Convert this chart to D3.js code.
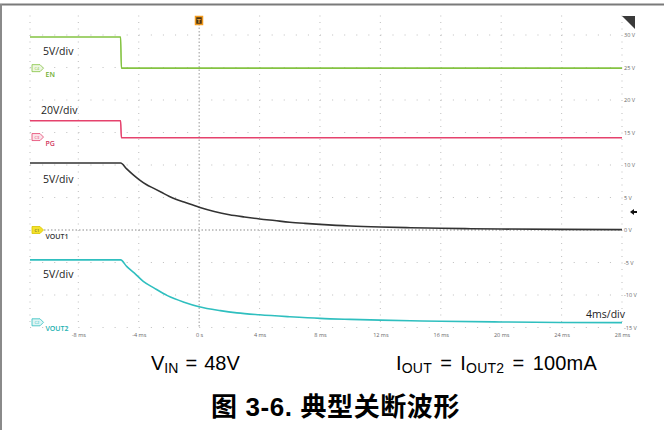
<!DOCTYPE html>
<html><head><meta charset="utf-8">
<script src="https://cdn.jsdelivr.net/npm/d3@7"></script>
<style>body{margin:0;background:#fff}svg{display:block}</style>
</head><body><svg id="c" width="664" height="430"></svg>
<script>
// ---------- data ----------
const timeTicks = [-8, -4, 0, 4, 8, 12, 16, 20, 24, 28];
const timeTickLabels = ["-8 ms", "-4 ms", "0 s", "4 ms", "8 ms", "12 ms", "16 ms", "20 ms", "24 ms", "28 ms"];
const voltTicks = [30, 25, 20, 15, 10, 5, 0, -5, -10, -15];
const voltTickLabels = ["30 V", "25 V", "20 V", "15 V", "10 V", "5 V", "0 V", "-5 V", "-10 V", "-15 V"];
const channelNames = ["EN", "PG", "VOUT1", "VOUT2"];
const channelIds = ["C4", "C3", "C1", "C2"];
const channelScales = ["5V/div", "20V/div", "5V/div", "5V/div"];
const timeDivLabel = "4ms/div";
// traces: [time (ms), level on the displayed volt scale]
const enTrace = [[-11.2, 29.7], [-5.2, 29.7], [-5.15, 24.9], [28, 24.9]];
const pgTrace = [[-11.2, 16.8], [-5.2, 16.8], [-5.15, 14.2], [28, 14.2]];
const vout1Trace = [[-11.2, 10.3], [-5.2, 10.3], [-4.8, 9.4], [-4.4, 8.55], [-4, 7.8], [-3.5, 7.0], [-3, 6.4],
  [-2.5, 5.8], [-2, 5.2], [-1.5, 4.7], [-1, 4.3], [0, 3.5], [1, 2.85], [2, 2.35], [3, 2.0], [4, 1.7],
  [5, 1.45], [6, 1.2], [7, 1.02], [8, 0.87], [10, 0.62], [12, 0.46], [14, 0.35], [16, 0.26], [18, 0.2],
  [20, 0.15], [24, 0.09], [28, 0.06]];
const vout2Trace = [[-11.2, -4.6], [-5.2, -4.6], [-4.8, -5.6], [-4.3, -6.6], [-3.7, -7.9], [-3, -8.9],
  [-2.1, -10.1], [-1, -11.1], [0, -11.8], [1.4, -12.4], [2.5, -12.75], [4, -13.05], [6, -13.35],
  [8, -13.6], [10, -13.75], [12, -13.87], [14, -13.97], [16, -14.05], [20, -14.15], [24, -14.22], [28, -14.25]];
const captionLeft = ["V", "IN", " = 48V"];
const captionRight = ["I", "OUT", " = ", "I", "OUT2", " = 100mA"];
const figureTitle = "图 3-6. 典型关断波形";

// ---------- layout / style ----------
const traces = [enTrace, pgTrace, vout1Trace, vout2Trace];
const colors = ["#84c341", "#e5426d", "#333333", "#2fbfbf"];
const markerFills = ["#eef7e2", "#fbe3ea", "#f4e22b", "#dff5f5"];
const labelColors = ["#6fae2e", "#d23a60", "#333333", "#22b2b2"];
const groundLevels = [24.9, 14.3, 0, -14.2];
const scaleLabelY = [55, 114, 183, 278];

const svg = d3.select("#c");
svg.append("rect").attr("width", 664).attr("height", 430).attr("fill", "#fff");

const x = d3.scaleLinear().domain([-11.2, 28]).range([30, 622]);
const y = d3.scaleLinear().domain([-15, 30]).range([327.5, 35]);
const plotTop = 15.5, plotBottom = 327.5;

// frame
svg.append("line").attr("x1", 0).attr("x2", 664).attr("y1", 4.5).attr("y2", 4.5)
  .attr("stroke", "#7a7a7a").attr("stroke-width", 2);
svg.append("line").attr("x1", 1).attr("x2", 1).attr("y1", 4).attr("y2", 430)
  .attr("stroke", "#8a8a8a").attr("stroke-width", 2);

// grid
const g = svg.append("g");
const minorX = x(0.8) - x(0);
const minorY = y(0) - y(1);
const vx = [x.domain()[0]].concat(timeTicks.filter(d => d !== 0));
g.selectAll("line.vg").data(vx).join("line")
  .attr("x1", d => x(d)).attr("x2", d => x(d)).attr("y1", plotTop).attr("y2", plotBottom)
  .attr("stroke", "#c4c4c4").attr("stroke-width", 1.1).attr("stroke-dasharray", `1.1,${minorY - 1.1}`);
g.selectAll("line.hg").data(voltTicks.filter(d => d !== 0)).join("line")
  .attr("x1", x.range()[0]).attr("x2", x.range()[1]).attr("y1", d => y(d)).attr("y2", d => y(d))
  .attr("stroke", "#c4c4c4").attr("stroke-width", 1.1).attr("stroke-dasharray", `1.1,${minorX - 1.1}`);
g.append("line").attr("x1", x(0)).attr("x2", x(0)).attr("y1", 24).attr("y2", plotBottom)
  .attr("stroke", "#9a9a9a").attr("stroke-width", 1).attr("stroke-dasharray", "1.5,2");
g.append("line").attr("x1", 44).attr("x2", x.range()[1]).attr("y1", y(0)).attr("y2", y(0))
  .attr("stroke", "#8a8a8a").attr("stroke-width", 1).attr("stroke-dasharray", "1.5,2");

// axis tick labels
const xAxis = d3.axisBottom(x).tickValues(timeTicks).tickSize(0).tickPadding(0)
  .tickFormat((d, i) => timeTickLabels[i]);
const xa = svg.append("g").attr("transform", `translate(0,${plotBottom + 6})`).call(xAxis);
xa.select(".domain").remove();
xa.selectAll("text").attr("font-family", "Open Sans, sans-serif").attr("font-size", 5.5).attr("fill", "#666");

const yAxis = d3.axisRight(y).tickValues(voltTicks).tickSize(0).tickPadding(0)
  .tickFormat((d, i) => voltTickLabels[i]);
const ya = svg.append("g").attr("transform", `translate(624,0)`).call(yAxis);
ya.select(".domain").remove();
ya.selectAll("text").attr("font-family", "Open Sans, sans-serif").attr("font-size", 5.5).attr("fill", "#666");

// traces
const line = d3.line().x(d => x(d[0])).y(d => y(d[1])).curve(d3.curveMonotoneX);
traces.forEach((t, i) => {
  svg.append("path").datum(t).attr("d", line).attr("fill", "none")
    .attr("stroke", colors[i]).attr("stroke-width", 1.6);
});

// channel markers and labels
channelNames.forEach((name, i) => {
  const yc = y(groundLevels[i]);
  svg.append("path")
    .attr("d", `M32,${yc - 3.5}H40L43.5,${yc}L40,${yc + 3.5}H32Z`)
    .attr("fill", markerFills[i]).attr("stroke", i === 2 ? "#d8c400" : colors[i]).attr("stroke-width", 0.8);
  svg.append("text").attr("x", 37).attr("y", yc + 1.5).attr("text-anchor", "middle")
    .attr("font-family", "Open Sans, sans-serif").attr("font-size", 4).attr("fill", i === 2 ? "#333" : colors[i])
    .text(channelIds[i]);
  svg.append("text").attr("x", 45.5).attr("y", yc + 9).attr("font-family", "Open Sans, sans-serif")
    .attr("font-size", 7).attr("font-weight", 600).attr("fill", labelColors[i]).text(name);
  svg.append("text").attr("x", i === 1 ? 41 : 43).attr("y", scaleLabelY[i])
    .attr("font-family", "Open Sans, sans-serif").attr("font-size", 10.5).attr("fill", "#222")
    .text(channelScales[i]);
});
svg.append("text").attr("x", 625).attr("y", 318).attr("text-anchor", "end")
  .attr("font-family", "Open Sans, sans-serif").attr("font-size", 10.5).attr("fill", "#222").text(timeDivLabel);

// trigger marker
svg.append("rect").attr("x", 195.5).attr("y", 16.5).attr("width", 7).attr("height", 8)
  .attr("fill", "#4a3412").attr("stroke", "#f29a1d").attr("stroke-width", 1.5);
svg.append("text").attr("x", 199).attr("y", 23).attr("text-anchor", "middle")
  .attr("font-family", "DejaVu Sans, sans-serif").attr("font-size", 5.5).attr("font-weight", "bold")
  .attr("fill", "#e8a040").text("T");
// top-right corner flag
svg.append("path").attr("d", "M622,16H635V29Z").attr("fill", "#3a3a3a");
// trigger level arrow
svg.append("path").attr("d", "M630,212L634,209V215Z").attr("fill", "#111");
svg.append("line").attr("x1", 633).attr("x2", 637).attr("y1", 212).attr("y2", 212)
  .attr("stroke", "#111").attr("stroke-width", 2);

// captions
const cap = svg.append("g").attr("font-family", "Liberation Sans, Arial, sans-serif").attr("fill", "#000");
const c1 = cap.append("text").attr("x", 151).attr("y", 370).attr("font-size", 20).attr("word-spacing", 1.5);
c1.append("tspan").text(captionLeft[0]);
c1.append("tspan").attr("font-size", 14).attr("dy", 3).text(captionLeft[1]);
c1.append("tspan").attr("dy", -3).text(captionLeft[2]);
const c2 = cap.append("text").attr("x", 396).attr("y", 370).attr("font-size", 20).attr("word-spacing", 2.5)
  .attr("letter-spacing", 0.2);
c2.append("tspan").text(captionRight[0]);
c2.append("tspan").attr("font-size", 14).attr("dy", 3).text(captionRight[1]);
c2.append("tspan").attr("dy", -3).text(captionRight[2]);
c2.append("tspan").text(captionRight[3]);
c2.append("tspan").attr("font-size", 14).attr("dy", 3).text(captionRight[4]);
c2.append("tspan").attr("dy", -3).text(captionRight[5]);

svg.append("text").attr("x", 211).attr("y", 416)
  .attr("font-family", "Liberation Sans, Noto Sans CJK SC, sans-serif").attr("font-weight", "bold")
  .attr("font-size", 26).attr("letter-spacing", 0.6).attr("fill", "#000").text(figureTitle);
</script></body></html>
